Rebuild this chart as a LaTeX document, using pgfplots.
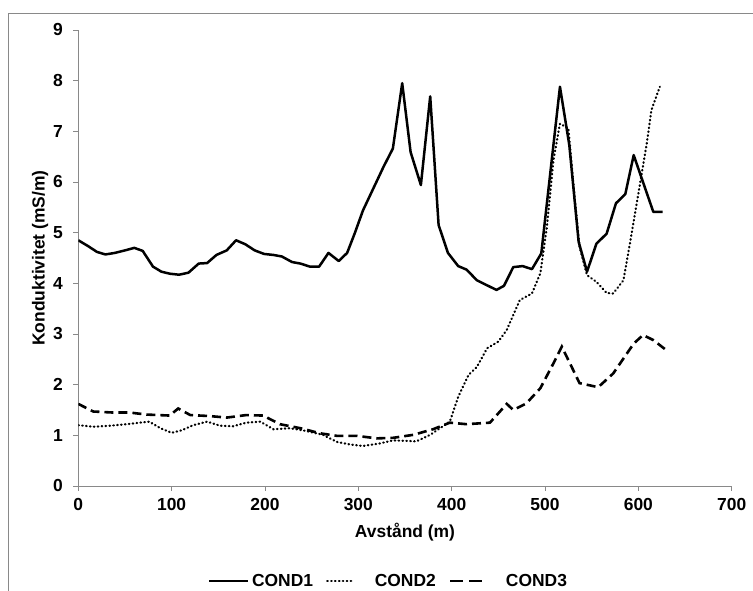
\documentclass[border=0pt]{standalone}
\usepackage{pgfplots}
\pgfplotsset{compat=1.18}
\usepackage{fontspec}
\setmainfont{Liberation Sans}
\definecolor{axisgray}{HTML}{898989}
\newcommand\lab{\fontsize{17.5}{21}\selectfont\bfseries}

% Legend samples of different lengths for the three line styles
\pgfplotsset{
  legsolid/.style={legend image code/.code={\draw[##1] (0bp,0bp) -- (39bp,0bp);}},
  legdotted/.style={legend image code/.code={\draw[##1] (0bp,0bp) -- (26bp,0bp);}},
  legdashed/.style={legend image code/.code={\draw[##1, dash pattern=on 12.5bp off 6.5bp] (0bp,0bp) -- (32bp,0bp);}},
}

% Conductivity profiles along the line
\pgfplotstableread{
x y
0 4.85
10 4.74
20 4.62
29 4.57
39 4.60
50 4.65
60 4.70
69 4.64
80 4.33
89 4.23
98 4.19
108 4.17
118 4.21
129 4.39
138 4.40
148 4.56
159 4.65
169 4.85
179 4.77
189 4.65
199 4.58
209 4.56
218 4.53
229 4.42
238 4.39
248 4.33
258 4.33
268 4.60
279 4.44
288 4.60
296 4.98
305 5.44
316 5.87
327 6.30
337 6.66
347 7.95
356 6.59
367 5.94
377 7.69
386 5.15
396 4.60
407 4.34
416 4.27
427 4.06
438 3.96
448 3.87
456 3.95
466 4.32
476 4.34
486 4.28
496 4.59
516 7.88
526 6.73
536 4.82
545 4.23
555 4.78
566 4.98
576 5.58
586 5.76
595 6.53
616 5.41
626 5.41
}\condone

\pgfplotstableread{
x y
0 1.20
16 1.17
34 1.19
52 1.22
66 1.25
76 1.27
88 1.14
100 1.05
111 1.10
123 1.20
138 1.27
152 1.19
166 1.18
180 1.25
195 1.27
209 1.12
227 1.14
243 1.09
262 1.01
277 0.87
291 0.82
305 0.79
323 0.84
337 0.90
352 0.89
362 0.88
377 1.01
398 1.27
407 1.76
418 2.19
427 2.35
438 2.72
450 2.85
459 3.08
473 3.67
486 3.80
495 4.20
502 5.11
509 6.43
516 7.15
525 7.06
532 5.64
537 4.72
545 4.16
555 4.03
566 3.81
573 3.80
584 4.06
591 4.79
600 5.77
609 6.76
614 7.42
623 7.88
}\condtwo

\pgfplotstableread{
x y
0 1.62
16 1.47
37 1.45
55 1.45
73 1.41
98 1.39
107 1.53
120 1.40
141 1.38
159 1.35
180 1.40
198 1.39
216 1.22
238 1.14
259 1.04
277 0.99
298 0.99
320 0.94
337 0.95
359 1.01
380 1.12
398 1.25
416 1.22
441 1.25
459 1.62
466 1.50
480 1.63
495 1.93
509 2.42
518 2.75
537 2.03
557 1.95
573 2.22
595 2.81
605 2.98
616 2.88
630 2.68
}\condthree

\begin{document}
\begin{tikzpicture}[x=1bp,y=1bp]
\path[use as bounding box] (0,0) rectangle (753,591);
\draw[axisgray, line width=0.9bp] (8,0) -- (8,578) -- (753,578);
\begin{axis}[
  at={(78.3bp,105bp)}, anchor=south west,
  scale only axis, width=653.4bp, height=456bp,
  xmin=0, xmax=700, ymin=0, ymax=9,
  axis x line=bottom, axis y line=left,
  axis line style={color=axisgray, line width=0.9bp, -},
  xtick={0,100,...,700}, ytick={0,1,...,9},
  tick align=outside, major tick length=5bp,
  tick style={color=axisgray, line width=0.8bp},
  /pgf/number format/assume math mode=true,
  ticklabel style={font=\lab, text=black},
  yticklabel style={xshift=-7bp},
  xticklabel style={yshift=-4bp},
  xlabel={Avstånd (m)}, ylabel={Konduktivitet (mS/m)},
  label style={font=\lab},
  xlabel style={at={(axis description cs:0.5,-0.1009)}, anchor=center},
  ylabel style={at={(axis description cs:-0.0586,0.5)}, anchor=center},
  legend columns=3,
  legend style={draw=none, fill=none, font=\lab,
    at={(axis description cs:0.474,-0.208)}, anchor=center,
    nodes={inner xsep=1bp},
    /tikz/every even column/.append style={column sep=12bp}},
]
\addplot[black, line width=2.5bp, line join=round, legsolid]
  table[x=x,y=y] {\condone};
\addlegendentry{\hspace{1.5bp}COND1\hspace{8bp}}
\addplot[black, line width=2.2bp, line cap=round, dash pattern=on 0.6bp off 3.3bp, legdotted]
  table[x=x,y=y] {\condtwo};
\addlegendentry{\hspace{19.5bp}COND2}
\addplot[black, line width=2.6bp, dash pattern=on 9bp off 5bp, legdashed]
  table[x=x,y=y] {\condthree};
\addlegendentry{\hspace{21.5bp}COND3}
\end{axis}
\end{tikzpicture}
\end{document}
